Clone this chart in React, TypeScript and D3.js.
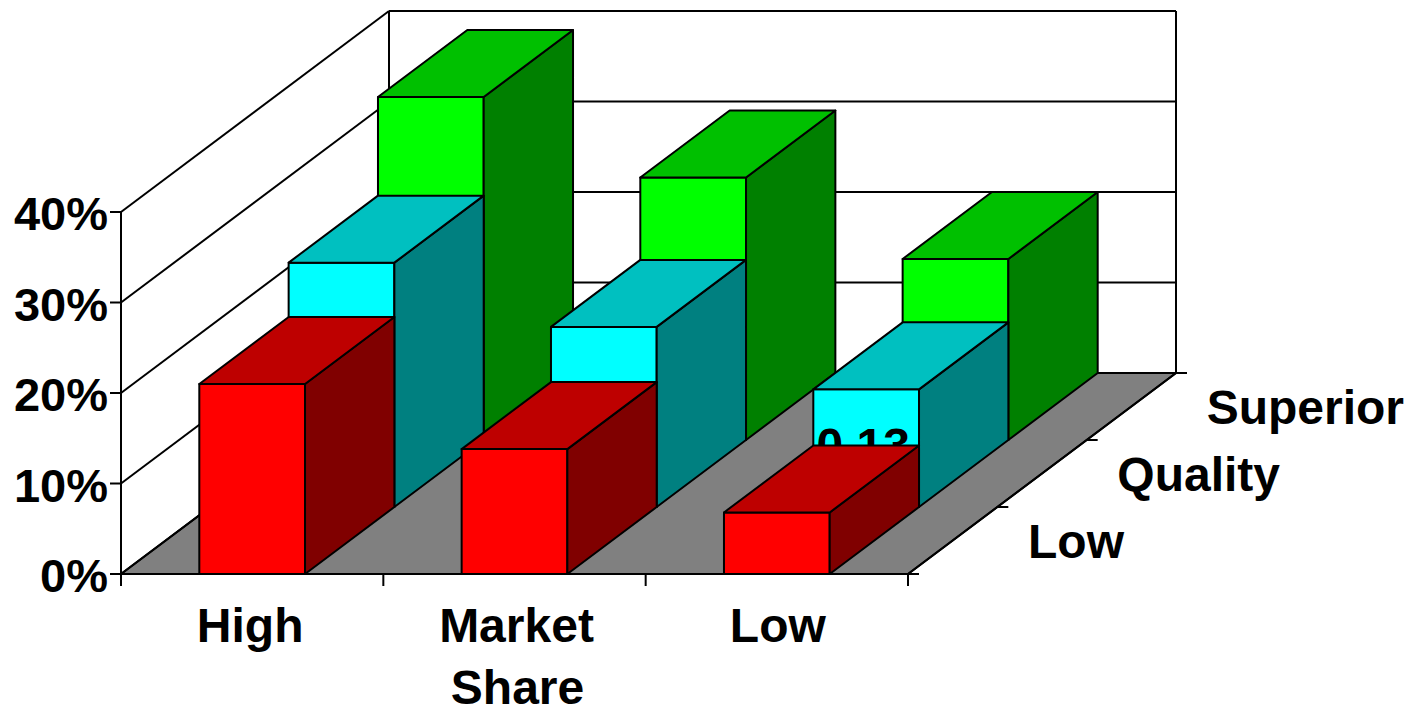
import React from "react";
import * as d3 from "d3";

// Market share categories along the front edge, quality levels going into the page.
const shareCategories = ["High", "Market", "Low"];
const qualityLevels = ["Low", "Quality", "Superior"];
const valueTicks = [0, 0.1, 0.2, 0.3, 0.4];

// Bar heights per quality row, ordered by share category.
const lowQuality = [0.21, 0.138, 0.068];
const midQuality = [0.27, 0.199, 0.13];
const superiorQuality = [0.379, 0.29, 0.2];

const rowValues = [lowQuality, midQuality, superiorQuality];
const rowColors = [
  { front: "#ff0000", top: "#be0000", side: "#800000" },
  { front: "#00ffff", top: "#00c0c0", side: "#008080" },
  { front: "#00ff00", top: "#00c000", side: "#008000" },
];

const WIDTH = 1411;
const HEIGHT = 708;
const FONT = "'Liberation Sans', Arial, sans-serif";

// Oblique projection: x along the front edge, y for value, depth shifts up and to the right.
const xBand = d3.scaleBand<string>().domain(shareCategories).range([121, 908]).paddingInner(0.597).paddingOuter(0.2985);
const yValue = d3.scaleLinear().domain([0, 0.4]).range([574, 212]);
const depthX = d3.scaleLinear().domain([0, 3]).range([0, 268]);
const depthY = d3.scaleLinear().domain([0, 3]).range([0, -201]);

const project = (x: number, value: number, depth: number): [number, number] => [
  x + depthX(depth),
  yValue(value) + depthY(depth),
];
const pathOf = d3.line<[number, number]>().x((p) => p[0]).y((p) => p[1]);
const poly = (pts: [number, number][]) => pathOf(pts) + "Z";

const xLeft = 121;
const xRight = 908;
const categoryLabelShift = [-2, 2, 1];

function Bar({ cat, row }: { cat: number; row: number }) {
  const x0 = xBand(shareCategories[cat]) as number;
  const x1 = x0 + xBand.bandwidth();
  const v = rowValues[row][cat];
  const c = rowColors[row];
  const d0 = row;
  const d1 = row + 1;
  const edge = { stroke: "#000", strokeWidth: 2, strokeLinejoin: "round" as const };
  return (
    <g>
      <path d={poly([project(x0, 0, d0), project(x1, 0, d0), project(x1, v, d0), project(x0, v, d0)])} fill={c.front} {...edge} />
      <path d={poly([project(x1, 0, d0), project(x1, 0, d1), project(x1, v, d1), project(x1, v, d0)])} fill={c.side} {...edge} />
      <path d={poly([project(x0, v, d0), project(x1, v, d0), project(x1, v, d1), project(x0, v, d1)])} fill={c.top} {...edge} />
    </g>
  );
}

export default function App() {
  const textStyle = { fontFamily: FONT, fontWeight: 700, fontSize: 48, fill: "#000" };
  const tickStyle = { ...textStyle, fontSize: 47 };
  const lineStyle = { stroke: "#000", strokeWidth: 2, fill: "none" };
  const bandMid = (name: string) => (xBand(name) as number) + xBand.bandwidth() / 2;
  const labelAnchor = project(bandMid("Low"), 0.05, 1);

  return (
    <svg width={WIDTH} height={HEIGHT} viewBox={`0 0 ${WIDTH} ${HEIGHT}`} style={{ position: "absolute", left: 0, top: 0 }}>
      <rect width={WIDTH} height={HEIGHT} fill="#fff" />

      {/* Floor */}
      <path d={poly([project(xLeft, 0, 0), project(xRight, 0, 0), project(xRight, 0, 3), project(xLeft, 0, 3)])} stroke="#000" strokeWidth={2} fill="#808080" />

      {/* Back wall gridlines and side wall diagonals */}
      {valueTicks.map((t) => {
        const a = project(xLeft, t, 0);
        const b = project(xLeft, t, 3);
        const c = project(xRight, t, 3);
        return (
          <g key={t}>
            <line x1={a[0]} y1={a[1]} x2={b[0]} y2={b[1]} {...lineStyle} />
            <line x1={b[0]} y1={b[1]} x2={c[0]} y2={c[1]} {...lineStyle} />
          </g>
        );
      })}
      <line x1={project(xLeft, 0, 3)[0]} y1={project(xLeft, 0, 3)[1]} x2={project(xLeft, 0.4, 3)[0]} y2={project(xLeft, 0.4, 3)[1]} {...lineStyle} />
      <line x1={project(xRight, 0, 3)[0]} y1={project(xRight, 0, 3)[1]} x2={project(xRight, 0.4, 3)[0]} y2={project(xRight, 0.4, 3)[1]} {...lineStyle} />

      {/* Value axis */}
      <line x1={xLeft} y1={yValue(0.4)} x2={xLeft} y2={yValue(0) + 12} {...lineStyle} />
      {valueTicks.map((t) => (
        <g key={t}>
          <line x1={xLeft - 11} y1={yValue(t)} x2={xLeft} y2={yValue(t)} {...lineStyle} />
          <text x={108} y={yValue(t) + 18} textAnchor="end" style={tickStyle}>
            {d3.format(".0%")(t)}
          </text>
        </g>
      ))}

      {/* Front edge and its ticks */}
      <line x1={xLeft} y1={yValue(0)} x2={xRight} y2={yValue(0)} {...lineStyle} />
      {d3.range(4).map((i) => {
        const x = xLeft + (i * (xRight - xLeft)) / 3;
        return <line key={i} x1={x} y1={yValue(0)} x2={x} y2={yValue(0) + 12} {...lineStyle} />;
      })}

      {/* Right floor edge and depth ticks */}
      <line x1={project(xRight, 0, 0)[0]} y1={project(xRight, 0, 0)[1]} x2={project(xRight, 0, 3)[0]} y2={project(xRight, 0, 3)[1]} {...lineStyle} />
      {d3.range(4).map((d) => {
        const p = project(xRight, 0, d);
        return <line key={d} x1={p[0]} y1={p[1]} x2={p[0] + 11} y2={p[1]} {...lineStyle} />;
      })}

      {/* Bars, back row first */}
      {[2, 1].map((row) => shareCategories.map((_, cat) => <Bar key={`${row}-${cat}`} cat={cat} row={row} />))}
      <text x={labelAnchor[0] - 3} y={labelAnchor[1]} textAnchor="middle" style={textStyle}>
        {midQuality[2].toFixed(2)}
      </text>
      {shareCategories.map((_, cat) => <Bar key={`0-${cat}`} cat={cat} row={0} />)}

      {/* Category labels */}
      {shareCategories.map((name, i) => (
        <text key={name} x={bandMid(name) + categoryLabelShift[i]} y={642} textAnchor="middle" style={textStyle}>
          {name}
        </text>
      ))}
      <text x={bandMid("Market") + 3} y={704} textAnchor="middle" style={textStyle}>
        Share
      </text>
      {qualityLevels.map((name, d) => {
        const p = project(xRight, 0, d);
        return (
          <text key={name} x={p[0] + 120} y={p[1] - 16} style={textStyle}>
            {name}
          </text>
        );
      })}
    </svg>
  );
}
